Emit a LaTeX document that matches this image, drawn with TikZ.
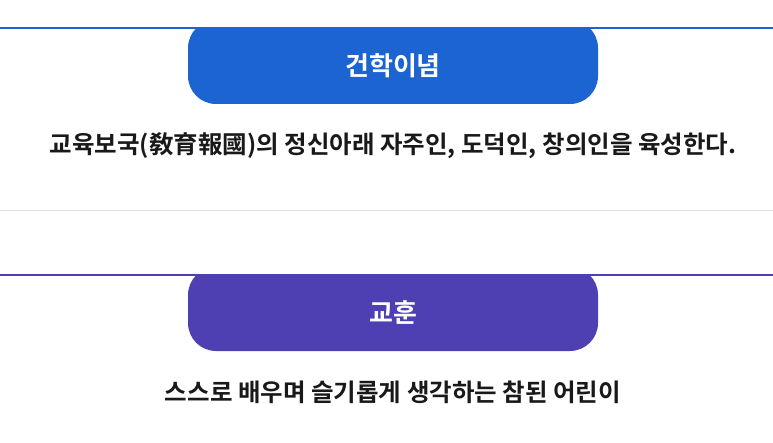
\documentclass[tikz,border=0pt]{standalone}
\usepackage{fontspec}
\newfontfamily\kr{Noto Sans CJK KR Bold}
\definecolor{tabblue}{HTML}{1C64D1}
\definecolor{tabpurple}{HTML}{4E3FB2}
\definecolor{sep}{HTML}{DDDDDD}
\begin{document}
\begin{tikzpicture}[x=1pt,y=-1pt,
  tabtext/.style={text=white,font=\kr\fontsize{26}{30}\selectfont},
  bodytext/.style={text=black!90,font=\kr\fontsize{24.5}{28}\selectfont}]
\useasboundingbox (0,0) rectangle (773,443);
% section 1
\fill[tabblue,rounded corners=28pt] (188,20) -- (188,104) -- (598,104) -- (598,20) -- cycle;
\fill[white] (180,0) rectangle (610,27);
\draw[tabblue,line width=2.5pt] (0,28) -- (773,28);
\node[tabtext] (t1) at (393,66) {건학이념};
\node[bodytext] (b1) at (393,146) {교육보국(敎育報國)의 정신아래 자주인, 도덕인, 창의인을 육성한다.};
\draw[sep,line width=1pt] (0,211) -- (773,211);
% section 2
\fill[tabpurple,rounded corners=28pt] (188,267) -- (188,351) -- (598,351) -- (598,267) -- cycle;
\fill[white] (180,212) rectangle (610,274);
\draw[tabpurple,line width=2.5pt] (0,275) -- (773,275);
\node[tabtext] (t2) at (393,313) {교훈};
\node[bodytext] (b2) at (393,392) {스스로 배우며 슬기롭게 생각하는 참된 어린이};
\end{tikzpicture}
\end{document}
